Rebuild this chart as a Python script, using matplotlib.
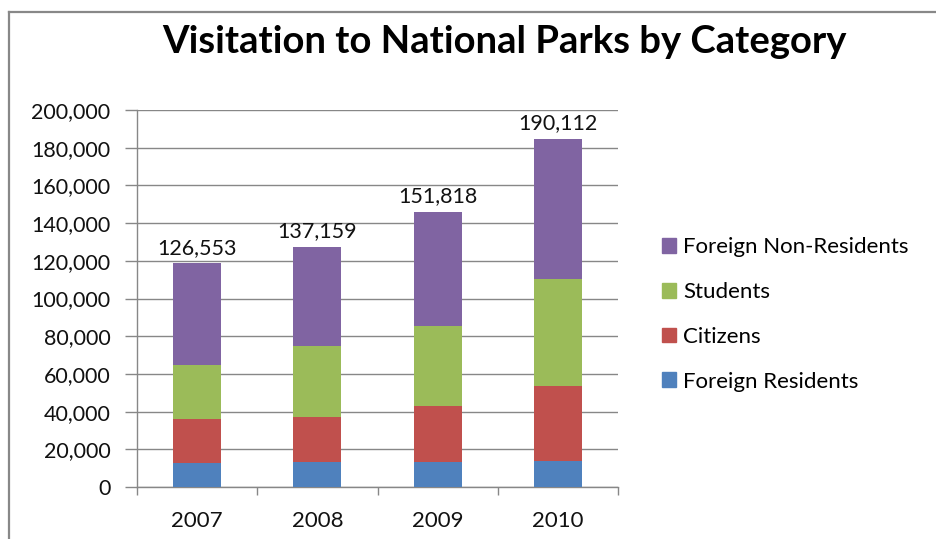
import matplotlib
matplotlib.use("Agg")
import matplotlib.pyplot as plt
from matplotlib.lines import Line2D
from matplotlib.patches import Patch
from matplotlib.ticker import FuncFormatter, FixedLocator

# Visitor counts by category (stack order bottom -> top)
years = ["2007", "2008", "2009", "2010"]
foreign_residents = [12600, 13100, 13100, 13600]
citizens = [23600, 23900, 29900, 40000]
students = [28700, 38000, 42400, 56600]
foreign_non_residents = [53800, 52500, 60500, 74400]
total_labels = ["126,553", "137,159", "151,818", "190,112"]

series = [
    ("Foreign Residents", foreign_residents, "#4F81BD"),
    ("Citizens", citizens, "#C0504D"),
    ("Students", students, "#9BBB59"),
    ("Foreign Non-Residents", foreign_non_residents, "#8064A2"),
]

FONT = "Lato"
GRID = "#878787"
TXT = "#111111"

W, H = 936, 539
fig = plt.figure(figsize=(W / 100, H / 100), dpi=100)
fig.patch.set_facecolor("white")

ax = fig.add_axes([137 / W, 1 - 487 / H, (618 - 137) / W, (487 - 110) / H])

x = list(range(len(years)))
bottom = [0] * len(years)
for name, vals, color in series:
    ax.bar(x, vals, width=0.4, bottom=bottom, color=color, label=name, zorder=3)
    bottom = [b + v for b, v in zip(bottom, vals)]

# total annotations above each stack
for xi, top, txt in zip(x, bottom, total_labels):
    ax.annotate(txt, (xi, top), xytext=(0, 4), textcoords="offset points",
                ha="center", va="bottom", fontsize=15.5, family=FONT, color=TXT)

ax.set_xlim(-0.5, len(years) - 0.5)
ax.set_ylim(0, 200000)
ax.set_yticks(range(0, 200001, 20000))
ax.yaxis.set_major_formatter(FuncFormatter(lambda v, p: f"{int(v):,}"))
ax.yaxis.grid(True, color=GRID, linewidth=1.0, zorder=0)
ax.set_axisbelow(True)

ax.set_xticks(x)
ax.set_xticklabels(years)
ax.xaxis.set_minor_locator(FixedLocator([i - 0.5 for i in range(len(years) + 1)]))
ax.tick_params(axis="x", which="major", length=0, pad=17, labelsize=16, labelcolor=TXT)
ax.tick_params(axis="x", which="minor", length=6, color=GRID, width=1.0, direction="out")
ax.tick_params(axis="y", length=9, color=GRID, width=1.0, pad=10, labelsize=15.5, labelcolor=TXT)
for lbl in ax.get_xticklabels() + ax.get_yticklabels():
    lbl.set_family(FONT)

for s in ("top", "right"):
    ax.spines[s].set_visible(False)
for s in ("left", "bottom"):
    ax.spines[s].set_color(GRID)
    ax.spines[s].set_linewidth(1.0)

# legend, top series first
handles = [Patch(facecolor=c, edgecolor=c) for _, _, c in series][::-1]
labels = [n for n, _, _ in series][::-1]
fig.legend(handles, labels, loc="upper left", bbox_to_anchor=(662 / W, 1 - 237 / H),
           frameon=False, prop={"family": FONT, "size": 16}, handlelength=0.65,
           handleheight=0.65, handletextpad=0.3, labelspacing=1.12, borderpad=0,
           borderaxespad=0)

fig.text(504 / W, 1 - 42 / H, "Visitation to National Parks by Category", ha="center",
         va="center", fontsize=27.5, fontweight="bold", family=FONT, color="black")

# chart frame edges
fig.add_artist(Line2D([9 / W, 1], [1 - 12 / H] * 2, color="#888888", linewidth=1.6,
                      transform=fig.transFigure))
fig.add_artist(Line2D([9 / W] * 2, [0, 1 - 12 / H], color="#888888", linewidth=1.6,
                      transform=fig.transFigure))

fig.savefig("out.png", dpi=100, facecolor="white")
